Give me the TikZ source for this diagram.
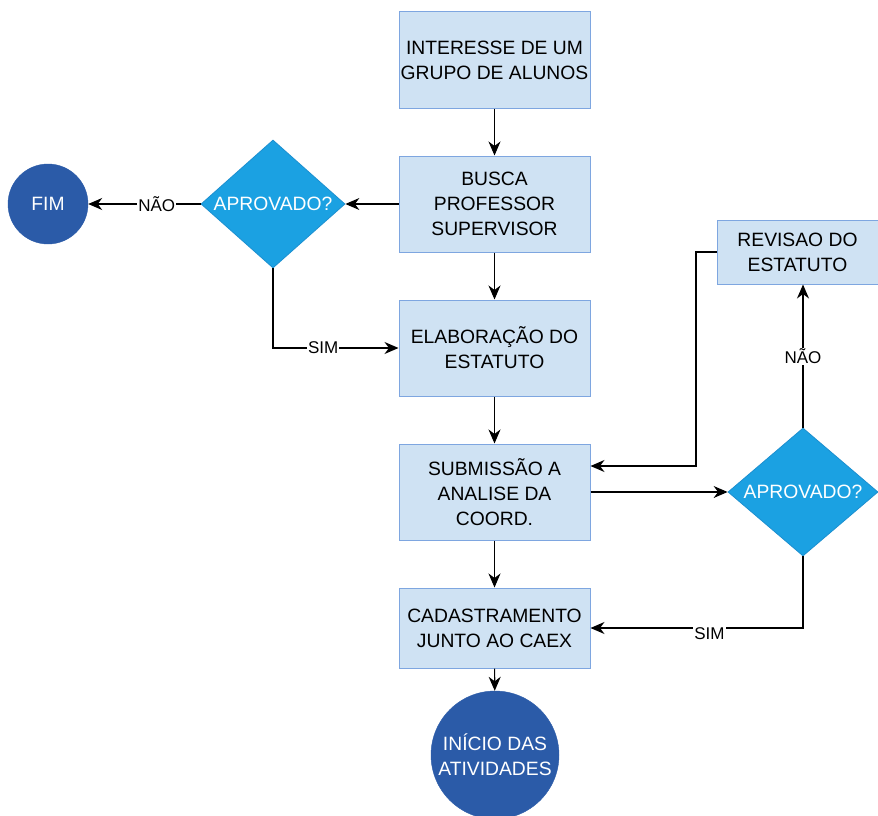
\documentclass[tikz,border=0pt]{standalone}
\usepackage{fontspec}
\setmainfont{Liberation Sans}
\usetikzlibrary{arrows.meta,shapes.geometric}
\definecolor{boxfill}{HTML}{CFE2F3}
\definecolor{boxdraw}{HTML}{7EA6E0}
\definecolor{diafill}{HTML}{1BA1E2}
\definecolor{diadraw}{HTML}{1B8FD0}
\definecolor{circfill}{HTML}{2B5BA8}
\tikzset{
  stepbox/.style={rectangle,draw=boxdraw,fill=boxfill,line width=1pt,align=center,font=\fontsize{19.3}{25}\selectfont,text=black,inner sep=0pt},
  decision/.style={diamond,draw=diadraw,fill=diafill,line width=0.8pt,align=center,font=\fontsize{19.3}{25}\selectfont,text=white,inner sep=0pt,aspect=1.125},
  term/.style={circle,fill=circfill,draw=circfill,align=center,font=\fontsize{19.3}{25}\selectfont,text=white,inner sep=0pt},
  conn/.style={draw=black,line width=1.1pt,-{Stealth[length=14pt,width=12pt,inset=4.5pt]}},
  lbl/.style={fill=white,font=\fontsize{17}{20}\selectfont,inner sep=1pt}
}
\begin{document}
\begin{tikzpicture}[x=1pt,y=-1pt]
\useasboundingbox (0,0) rectangle (878,816);
\clip (0,0) rectangle (878,816);
\node[stepbox,minimum width=191pt,minimum height=96pt] (b1) at (494.5,60) {INTERESSE DE UM\\GRUPO DE ALUNOS};
\node[stepbox,minimum width=191pt,minimum height=96pt] (b2) at (494.5,204) {BUSCA\\PROFESSOR\\SUPERVISOR};
\node[stepbox,minimum width=191pt,minimum height=96pt] (b3) at (494.5,348) {ELABORAÇÃO DO\\ESTATUTO};
\node[stepbox,minimum width=191pt,minimum height=96pt] (b4) at (494.5,492) {SUBMISSÃO A\\ANALISE DA\\COORD.};
\node[stepbox,minimum width=191pt,minimum height=80pt] (b5) at (494.5,628) {CADASTRAMENTO\\JUNTO AO CAEX};
\node[stepbox,minimum width=161pt,minimum height=64pt] (rev) at (797.5,252) {REVISAO DO\\ESTATUTO};
\node[decision,minimum width=144pt,minimum height=128pt] (d1) at (273,204) {APROVADO?};
\node[decision,minimum width=150pt,minimum height=128pt] (d2) at (803,492) {APROVADO?};
\node[term,minimum size=80pt] (fim) at (48,204) {FIM};
\node[term,minimum size=128pt] (ini) at (495,755) {INÍCIO DAS\\ATIVIDADES};

\draw[conn] (b1) -- (b2);
\draw[conn] (b2) -- (b3);
\draw[conn] (b3) -- (b4);
\draw[conn] (b4) -- (b5);
\draw[conn] (b5) -- (ini);
\draw[conn] (b2.west) -- (d1.east);
\draw[conn] (d1.west) -- node[lbl,pos=0.39]{NÃO} (fim.east);
\draw[conn] (d1.south) |- node[lbl,pos=0.7]{SIM} (b3.west);
\draw[conn] (b4.east) -- (d2.west);
\draw[conn] (d2.north) -- node[lbl,pos=0.5]{NÃO} (d2.north |- rev.south);
\coordinate (rv) at (696,252);
\draw[conn] (rev.west) -- (rv) |- ([yshift=26pt]b4.east);
\draw[conn] (d2.south) |- node[lbl,pos=0.72,yshift=-6pt]{SIM} (b5.east);
\end{tikzpicture}
\end{document}
